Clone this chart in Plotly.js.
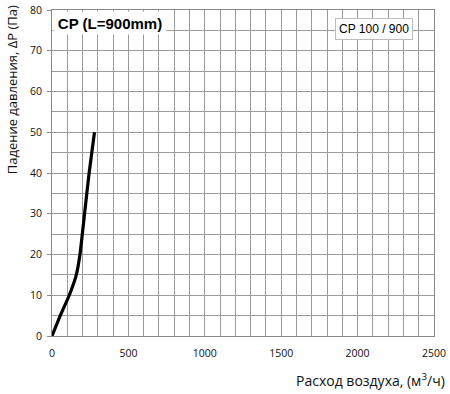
<!DOCTYPE html>
<html>
<head>
<meta charset="utf-8">
<script src="https://cdn.plot.ly/plotly-3.0.1.min.js"></script>
<style>html,body{margin:0;padding:0;background:#fff;}#chart{width:450px;height:394px;}</style>
</head>
<body>
<div id="chart"></div>
<script>
const airflow = [0, 54, 113, 159, 183, 213, 243, 278];
const pressureDrop = [0, 5, 10, 15, 20, 30, 40, 50];
const seriesName = "CP 100 / 900";
const chartTitle = "CP (L=900mm)";
const xTitle = "Расход воздуха, (м<sup>3</sup>/ч)";
const yTitle = "Падение давления, ΔP (Па)";

const gridColor = "#9a9a9a";
const tickFont = {family: "Open Sans", size: 10.5, color: "#111"};

Plotly.newPlot("chart", [{
  x: airflow, y: pressureDrop, type: "scatter", mode: "lines",
  line: {color: "#000", width: 3.2, shape: "spline", smoothing: 0.5},
  name: seriesName, showlegend: false, hoverinfo: "skip"
}], {
  width: 450, height: 394,
  margin: {l: 52, r: 16, t: 10, b: 58},
  paper_bgcolor: "#fff", plot_bgcolor: "#fff",
  showlegend: false,
  xaxis: {
    range: [0, 2500], dtick: 500, tick0: 0, showgrid: true, gridcolor: gridColor, gridwidth: 1,
    minor: {dtick: 100, showgrid: true, gridcolor: gridColor, gridwidth: 1},
    showline: true, linecolor: "#888", mirror: true, zeroline: false,
    ticks: "", tickfont: tickFont, ticklabelstandoff: 7, fixedrange: true
  },
  yaxis: {
    range: [0, 80], dtick: 10, tick0: 0, showgrid: true, gridcolor: gridColor, gridwidth: 1,
    minor: {dtick: 5, showgrid: true, gridcolor: gridColor, gridwidth: 1},
    showline: true, linecolor: "#888", mirror: true, zeroline: false,
    ticks: "outside", ticklen: 4, tickcolor: "#888", tickfont: tickFont, ticklabelstandoff: 3, fixedrange: true
  },
  annotations: [
    {text: "<b>" + chartTitle + "</b>", xref: "paper", yref: "paper", x: 0.003, y: 0.997,
     xanchor: "left", yanchor: "top", showarrow: false, bgcolor: "#fff",
     width: 110, height: 20, align: "center",
     font: {family: "Liberation Sans, Arial", size: 15, color: "#000"}},
    {text: seriesName, xref: "paper", yref: "paper", x: 0.741, y: 0.975,
     xanchor: "left", yanchor: "top", showarrow: false, bgcolor: "#fff",
     bordercolor: "#bbb", borderwidth: 1, borderpad: 3,
     font: {family: "Liberation Sans, Arial", size: 12, color: "#000"}},
    {text: xTitle, xref: "paper", yref: "paper", x: 1.034, y: -0.135,
     xanchor: "right", yanchor: "middle", showarrow: false,
     font: {family: "Open Sans", size: 14, color: "#111"}},
    {text: yTitle, xref: "paper", yref: "paper", x: -0.104, y: 1.02,
     xanchor: "center", yanchor: "top", textangle: -90, showarrow: false,
     font: {family: "Open Sans", size: 13, color: "#111"}}
  ]
}, {staticPlot: true});
</script>
</body>
</html>
